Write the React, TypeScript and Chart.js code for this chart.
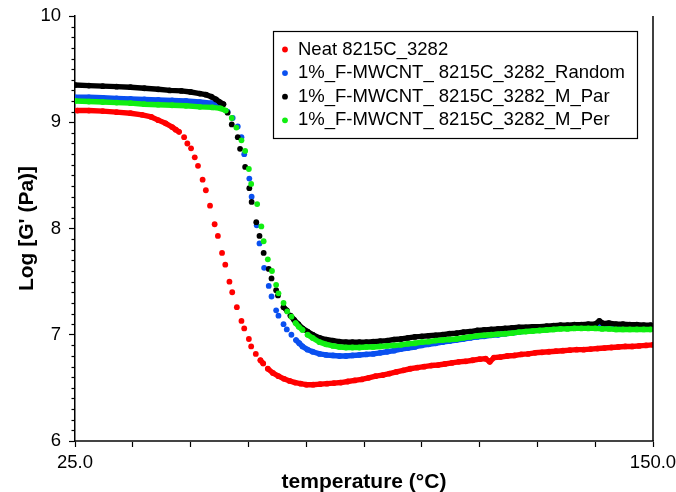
import { useEffect, useRef } from "react";
import { Chart, registerables } from "chart.js";

Chart.register(...registerables);

const FONT = "'Liberation Sans', Arial, Helvetica, sans-serif";

const seriesNames = [
  "Neat 8215C_3282",
  "1%_F-MWCNT_ 8215C_3282_Random",
  "1%_F-MWCNT_ 8215C_3282_M_Par",
  "1%_F-MWCNT_ 8215C_3282_M_Per",
];
const seriesColors = ["#ff0000", "#0a50f0", "#000000", "#11ee11"];

const xAxisTitle = "temperature (°C)";
const yAxisTitle = "Log [G' (Pa)]";
const xMin = 25;
const xMax = 150;
const xStep = 12.5;
const yMin = 6;
const yMax = 10;

// Neat 8215C_3282 (red)
const neatTemp = [
  25.5, 28, 31, 34, 37, 39.5, 41.5, 43, 44.6, 46.0, 46.8, 47.5, 48.6, 49.3, 50.1, 50.9, 51.6,
  52.6, 53.3, 54.2, 55.2, 55.9, 56.8, 57.5, 58.4, 59.0, 60.0, 61.0, 61.6, 62.6, 63.1, 64.1, 65.1,
  65.7, 66.7, 67.8, 69.0, 70.2, 71.4, 72.6, 73.8, 75.0, 76.5, 78, 79.5, 81, 82.5, 84, 85.5, 87,
  88.5, 90, 91.5, 93, 94.5, 96, 97.5, 99, 100.5, 102, 103.5, 105, 106.5, 108, 109.5, 111, 112.5,
  113.8, 114.7, 115.6, 117, 118.5, 120, 121.5, 123, 124.5, 126, 127.5, 129, 130.5, 132, 133.5,
  135, 136.5, 138, 139.5, 141, 142.5, 144, 145.5, 147, 148.5, 150,
];
const neatLogG = [
  9.11, 9.11, 9.105, 9.095, 9.085, 9.07, 9.05, 9.02, 8.99, 8.955, 8.93, 8.91, 8.86, 8.8, 8.755,
  8.67, 8.59, 8.46, 8.36, 8.215, 8.04, 7.93, 7.77, 7.66, 7.5, 7.4, 7.26, 7.13, 7.06, 6.96, 6.89,
  6.82, 6.76, 6.73, 6.68, 6.64, 6.61, 6.585, 6.565, 6.55, 6.54, 6.53, 6.53, 6.535, 6.54, 6.545,
  6.55, 6.56, 6.57, 6.58, 6.595, 6.61, 6.62, 6.635, 6.65, 6.665, 6.68, 6.69, 6.7, 6.71, 6.715,
  6.725, 6.735, 6.745, 6.75, 6.76, 6.77, 6.775, 6.745, 6.785, 6.79, 6.8, 6.805, 6.815, 6.82,
  6.83, 6.835, 6.84, 6.845, 6.85, 6.855, 6.86, 6.86, 6.865, 6.87, 6.875, 6.88, 6.885, 6.89,
  6.89, 6.895, 6.9, 6.905,
];

// 1%_F-MWCNT_ 8215C_3282_Random (blue)
const randomTemp = [
  25, 28, 31, 34, 37, 40, 43, 46, 49, 52, 54.5, 56.5, 58.0, 59.1, 60.2, 61.0, 61.6, 62.7, 63.2,
  64.3, 64.9, 65.9, 66.9, 67.5, 68.5, 69.0, 70.1, 70.8, 71.8, 72.8, 73.5, 74.2, 75.3, 76.4, 77.9,
  79.3, 80.8, 82.2, 83.6, 85, 86.5, 88, 89.5, 91, 92.5, 94, 95.5, 97, 98.5, 100, 101.5, 103,
  104.5, 106, 107.5, 109, 110.5, 112, 113.5, 115, 116.5, 118, 119.5, 121, 122.5, 124, 125.5, 127,
  128.5, 130, 131.5, 133, 134.5, 136, 137.5, 139, 140.5, 142, 143.5, 145, 146.5, 148, 149.5,
];
const randomLogG = [
  9.235, 9.235, 9.23, 9.225, 9.22, 9.215, 9.21, 9.205, 9.2, 9.19, 9.18, 9.16, 9.1, 9.04, 8.96,
  8.86, 8.7, 8.47, 8.3, 8.03, 7.86, 7.63, 7.46, 7.36, 7.23, 7.18, 7.1, 7.05, 7.0, 6.95, 6.92,
  6.89, 6.86, 6.84, 6.82, 6.81, 6.805, 6.8, 6.8, 6.805, 6.81, 6.815, 6.82, 6.83, 6.84, 6.85,
  6.865, 6.875, 6.885, 6.9, 6.91, 6.92, 6.93, 6.94, 6.95, 6.96, 6.97, 6.98, 6.985, 6.995, 7.0,
  7.01, 7.015, 7.025, 7.035, 7.04, 7.045, 7.05, 7.06, 7.065, 7.07, 7.075, 7.075, 7.08, 7.08,
  7.08, 7.08, 7.08, 7.08, 7.08, 7.08, 7.08, 7.08,
];

// 1%_F-MWCNT_ 8215C_3282_M_Par (black)
const parTemp = [
  25, 28, 31, 34, 37, 40, 43, 45.5, 48, 50, 52, 53.3, 54.5, 55.5, 56.3, 57.1, 58.0, 58.9, 60.2,
  60.7, 61.8, 62.7, 63.2, 64.2, 64.9, 65.8, 66.9, 67.5, 68.5, 68.9, 70.1, 70.8, 71.6, 72.4, 73.3,
  74.2, 75.3, 76.4, 77.9, 79.3, 80.8, 82.2, 83.6, 85, 86.5, 88, 89.5, 91, 92.5, 94, 95.5, 97,
  98.5, 100, 101.5, 103, 104.5, 106, 107.5, 109, 110.5, 112, 113.5, 115, 116.5, 118, 119.5, 121,
  122.5, 124, 125.5, 127, 128.5, 130, 131.5, 133, 134.5, 136, 137.5, 138.4, 139.3, 140.5, 142,
  143.5, 145, 146.5, 148, 149.5,
];
const parLogG = [
  9.35, 9.345, 9.34, 9.335, 9.33, 9.32, 9.31, 9.3, 9.295, 9.285, 9.27, 9.26, 9.24, 9.215, 9.19,
  9.17, 9.09, 8.98, 8.86, 8.75, 8.58, 8.38, 8.25, 8.06, 7.93, 7.77, 7.62, 7.53, 7.42, 7.37, 7.26,
  7.23, 7.18, 7.14, 7.1, 7.06, 7.03, 7.0, 6.97, 6.955, 6.945, 6.935, 6.93, 6.93, 6.93, 6.93,
  6.935, 6.94, 6.945, 6.955, 6.96, 6.97, 6.98, 6.985, 6.99, 6.995, 7.0, 7.01, 7.015, 7.025, 7.03,
  7.04, 7.045, 7.05, 7.055, 7.06, 7.065, 7.07, 7.07, 7.075, 7.075, 7.08, 7.085, 7.09, 7.09,
  7.095, 7.095, 7.1, 7.1, 7.13, 7.105, 7.11, 7.1, 7.1, 7.095, 7.095, 7.09, 7.09,
];

// 1%_F-MWCNT_ 8215C_3282_M_Per (green)
const perTemp = [
  25, 28, 31, 34, 37, 40, 43, 46, 49, 52, 54.7, 56.5, 57.6, 58.9, 59.9, 61.0, 61.8, 62.6, 63.1,
  64.4, 65.3, 65.8, 66.7, 67.6, 68.5, 69.0, 70.1, 70.9, 71.8, 72.7, 73.4, 74.2, 75.3, 76.4, 77.9,
  79.3, 80.8, 82.2, 83.6, 85, 86.5, 88, 89.5, 91, 92.5, 94, 95.5, 97, 98.5, 100, 101.5, 103,
  104.5, 106, 107.5, 109, 110.5, 112, 113.5, 115, 116.5, 118, 119.5, 121, 122.5, 124, 125.5, 127,
  128.5, 130, 131.5, 133, 134.5, 136, 137.5, 139, 140.5, 142, 143.5, 145, 146.5, 148, 149.5,
];
const perLogG = [
  9.2, 9.195, 9.19, 9.185, 9.18, 9.17, 9.165, 9.16, 9.155, 9.145, 9.14, 9.13, 9.11, 9.04, 8.95,
  8.83, 8.73, 8.56, 8.42, 8.23, 8.02, 7.88, 7.71, 7.6, 7.47, 7.39, 7.3, 7.22, 7.17, 7.11, 7.075,
  7.045, 7.0, 6.97, 6.93, 6.91, 6.895, 6.885, 6.88, 6.88, 6.88, 6.885, 6.885, 6.89, 6.895, 6.9,
  6.905, 6.915, 6.92, 6.93, 6.935, 6.945, 6.95, 6.955, 6.96, 6.97, 6.98, 6.99, 6.995, 7.0, 7.005,
  7.01, 7.015, 7.025, 7.03, 7.035, 7.04, 7.045, 7.05, 7.055, 7.055, 7.06, 7.06, 7.06, 7.06,
  7.055, 7.055, 7.05, 7.05, 7.05, 7.05, 7.05, 7.05,
];

const seriesTemps = [neatTemp, randomTemp, parTemp, perTemp];
const seriesValues = [neatLogG, randomLogG, parLogG, perLogG];

const frameAndMinorTicks = {
  id: "frameAndMinorTicks",
  afterDraw(chart: any) {
    const { ctx, chartArea } = chart;
    const y = chart.scales.y;
    ctx.save();
    ctx.strokeStyle = "#000";
    ctx.lineWidth = 1.5;
    ctx.beginPath();
    ctx.moveTo(chartArea.right, chartArea.top);
    ctx.lineTo(chartArea.right, chartArea.bottom);
    ctx.stroke();
    ctx.lineWidth = 1.2;
    const n = Math.round((yMax - yMin) * 10);
    for (let i = 0; i <= n; i++) {
      if (i % 10 === 0) continue;
      const py = Math.round(y.getPixelForValue(yMin + i / 10)) + 0.5;
      ctx.beginPath();
      ctx.moveTo(chartArea.left - 3.5, py);
      ctx.lineTo(chartArea.left, py);
      ctx.stroke();
    }
    ctx.restore();
  },
};

const boxLegend = {
  id: "boxLegend",
  afterDraw(chart: any) {
    const { ctx, chartArea } = chart;
    const x0 = chartArea.left + 198;
    const y0 = chartArea.top + 15;
    const w = 364;
    const h = 107;
    ctx.save();
    ctx.fillStyle = "#fff";
    ctx.fillRect(x0, y0, w, h);
    ctx.strokeStyle = "#000";
    ctx.lineWidth = 1.2;
    ctx.strokeRect(x0 + 0.5, y0 + 0.5, w, h);
    ctx.font = `18.5px ${FONT}`;
    ctx.textBaseline = "middle";
    ctx.textAlign = "left";
    chart.data.datasets.forEach((ds: any, i: number) => {
      const cy = y0 + 18.5 + i * 23.6;
      ctx.fillStyle = ds.backgroundColor;
      ctx.beginPath();
      ctx.arc(x0 + 12, cy, 2.9, 0, Math.PI * 2);
      ctx.fill();
      ctx.fillStyle = "#000";
      ctx.fillText(ds.label, x0 + 25, cy);
    });
    ctx.restore();
  },
};

export default function App() {
  const ref = useRef<HTMLCanvasElement>(null);

  useEffect(() => {
    const canvas = ref.current;
    if (!canvas) return;
    const datasets = seriesNames.map((name, i) => {
      const color = seriesColors[i];
      return {
        label: name,
        data: seriesTemps[i].map((t, j) => ({ x: t, y: seriesValues[i][j] })),
        order: seriesNames.length - 1 - i,
        showLine: true,
        borderWidth: 5.4,
        borderCapStyle: "round",
        borderJoinStyle: "round",
        borderColor: color,
        backgroundColor: color,
        pointRadius: 2.9,
        pointBorderWidth: 0,
        pointBackgroundColor: color,
        pointBorderColor: color,
        tension: 0,
        segment: {
          borderColor: (c: any) => {
            const dx = Math.abs(c.p1.x - c.p0.x);
            const dy = Math.abs(c.p1.y - c.p0.y);
            return dx < 15 && dy < 4.5 ? color : "rgba(0,0,0,0)";
          },
        },
      };
    });

    const chart = new Chart(canvas, {
      type: "scatter",
      data: { datasets } as any,
      options: {
        responsive: false,
        animation: false,
        events: [],
        layout: { padding: { left: 0, right: 23, top: 16, bottom: 0 } },
        plugins: {
          legend: { display: false },
          tooltip: { enabled: false },
        },
        scales: {
          x: {
            type: "linear",
            min: xMin,
            max: xMax,
            afterFit: (s: any) => {
              s.height = 51;
              s.paddingLeft = 0;
              s.paddingRight = 0;
            },
            ticks: {
              stepSize: xStep,
              autoSkip: false,
              maxRotation: 0,
              color: "#000",
              padding: 5,
              font: { family: FONT, size: 18.5 },
              callback: (v: any) => (v === xMin || v === xMax ? Number(v).toFixed(1) : ""),
            },
            grid: {
              drawOnChartArea: false,
              drawTicks: true,
              tickLength: 6,
              tickColor: "#000",
              tickWidth: 1.2,
            },
            border: { color: "#444", width: 2 },
            title: {
              display: true,
              text: xAxisTitle,
              color: "#000",
              font: { family: FONT, size: 21, weight: "bold" },
              padding: { top: 0, bottom: -3 },
            },
          },
          y: {
            type: "linear",
            min: yMin,
            max: yMax,
            afterFit: (s: any) => {
              s.width = 75;
              s.paddingTop = 0;
              s.paddingBottom = 0;
            },
            ticks: {
              stepSize: 1,
              color: "#000",
              padding: 8,
              font: { family: FONT, size: 18.5 },
            },
            grid: {
              drawOnChartArea: false,
              drawTicks: true,
              tickLength: 6,
              tickColor: "#000",
              tickWidth: 1.2,
            },
            border: { color: "#000", width: 1.5 },
            title: {
              display: true,
              text: yAxisTitle,
              color: "#000",
              font: { family: FONT, size: 21, weight: "bold" },
              padding: { top: 15, bottom: 0 },
            },
          },
        },
      } as any,
      plugins: [frameAndMinorTicks, boxLegend],
    });
    return () => chart.destroy();
  }, []);

  return (
    <div style={{ position: "absolute", left: 0, top: 0, width: 676, height: 492, background: "#fff" }}>
      <canvas ref={ref} width={676} height={492} />
    </div>
  );
}
